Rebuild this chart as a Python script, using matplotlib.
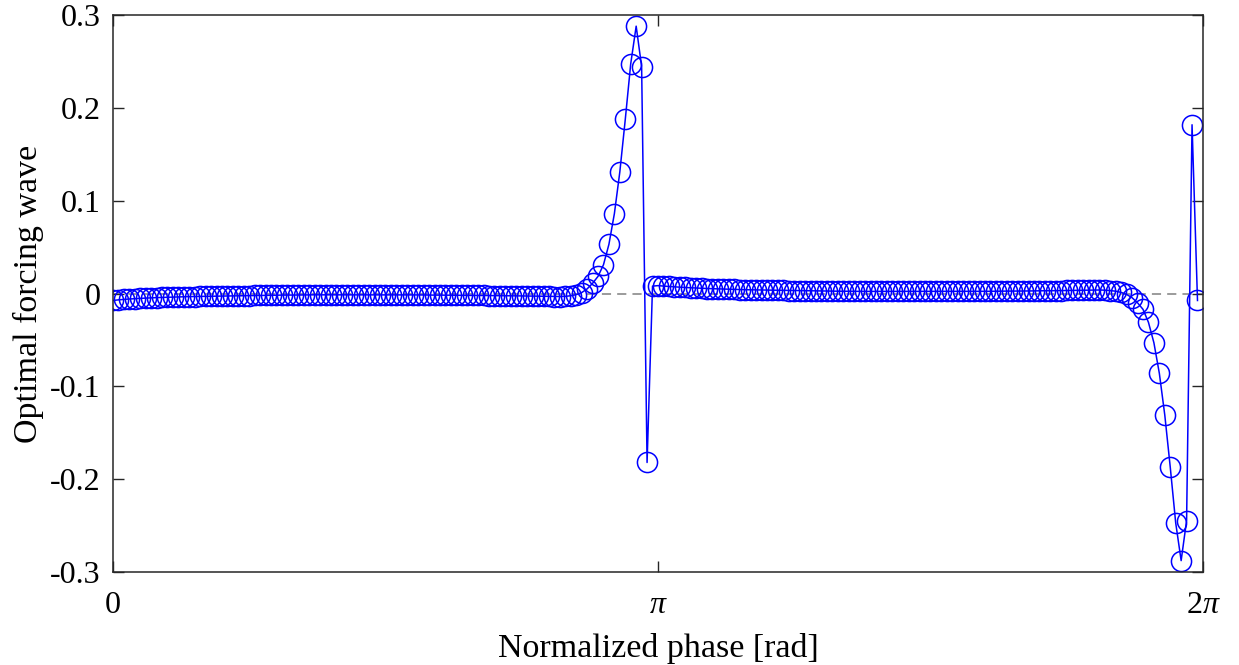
import numpy as np
import matplotlib
matplotlib.use("Agg")
from matplotlib import pyplot as plt

plt.rcParams['font.family'] = ['Liberation Serif', 'DejaVu Serif']
plt.rcParams['mathtext.fontset'] = 'custom'
plt.rcParams['mathtext.rm'] = 'Liberation Serif'
plt.rcParams['mathtext.it'] = 'Liberation Serif:italic'
plt.rcParams['axes.unicode_minus'] = False

# 200 samples over one period, phase step 2*pi/200
n_points = 200
phase = np.arange(n_points) * 2 * np.pi / n_points

# first half (0 .. pi)
wave_a = [
    -0.0075, -0.0068, -0.0063, -0.0059, -0.0055, -0.0052, -0.0049, -0.0046, -0.0044, -0.0042,
    -0.0040, -0.0038, -0.0036, -0.0035, -0.0033, -0.0032, -0.0031, -0.0030, -0.0029, -0.0028,
    -0.0027, -0.0026, -0.0025, -0.0024, -0.0023, -0.0022, -0.0021, -0.0020, -0.0019, -0.0019,
    -0.0018, -0.0017, -0.0017, -0.0016, -0.0016, -0.0015, -0.0015, -0.0014, -0.0014, -0.0014,
    -0.0013, -0.0013, -0.0013, -0.0013, -0.0013, -0.0013, -0.0013, -0.0013, -0.0013, -0.0013,
    -0.0013, -0.0014, -0.0014, -0.0014, -0.0015, -0.0015, -0.0015, -0.0016, -0.0016, -0.0017,
    -0.0017, -0.0018, -0.0018, -0.0019, -0.0019, -0.0020, -0.0020, -0.0021, -0.0021, -0.0022,
    -0.0022, -0.0023, -0.0024, -0.0024, -0.0025, -0.0026, -0.0027, -0.0028, -0.0029, -0.0030,
    -0.0031, -0.0032, -0.0032, -0.0030, -0.0024, -0.0012, 0.0010, 0.0050, 0.0110, 0.0185,
    0.0310, 0.0530, 0.0860, 0.1310, 0.1875, 0.2475, 0.2880, 0.2445, -0.1820, 0.0080,
]
# second half (pi .. 2pi)
wave_b = [
    0.0085, 0.0080, 0.0076, 0.0072, 0.0068, 0.0065, 0.0062, 0.0059, 0.0056, 0.0054,
    0.0052, 0.0050, 0.0048, 0.0046, 0.0044, 0.0043, 0.0041, 0.0040, 0.0038, 0.0037,
    0.0036, 0.0035, 0.0034, 0.0033, 0.0032, 0.0031, 0.0030, 0.0029, 0.0028, 0.0028,
    0.0027, 0.0026, 0.0026, 0.0025, 0.0025, 0.0024, 0.0024, 0.0023, 0.0023, 0.0023,
    0.0022, 0.0022, 0.0022, 0.0022, 0.0022, 0.0022, 0.0022, 0.0022, 0.0022, 0.0022,
    0.0022, 0.0022, 0.0023, 0.0023, 0.0023, 0.0023, 0.0023, 0.0024, 0.0024, 0.0024,
    0.0024, 0.0024, 0.0025, 0.0025, 0.0026, 0.0026, 0.0027, 0.0027, 0.0028, 0.0028,
    0.0029, 0.0030, 0.0030, 0.0031, 0.0032, 0.0033, 0.0034, 0.0035, 0.0036, 0.0037,
    0.0038, 0.0038, 0.0036, 0.0032, 0.0025, 0.0012, -0.0010, -0.0045, -0.0100, -0.0170,
    -0.0310, -0.0530, -0.0860, -0.1310, -0.1870, -0.2470, -0.2877, -0.2446, 0.1818, -0.0075,
]
wave = np.array(wave_a + wave_b)

xtick_vals = [0, np.pi, 2 * np.pi]
xtick_labels = ['0', r'$\pi$', r'2$\pi$']
ytick_vals = [-0.3, -0.2, -0.1, 0, 0.1, 0.2, 0.3]
ytick_labels = ['-0.3', '-0.2', '-0.1', '0', '0.1', '0.2', '0.3']

fig = plt.figure(figsize=(12.39, 6.65), dpi=100)
ax = fig.add_axes([0.0912, 0.1398, 0.8797, 0.8376])

ax.axhline(0, color='0.5', linestyle=(0, (6, 4)), linewidth=1.1, zorder=1)
ax.plot(phase, wave, '-o', color='blue', linewidth=1.1, markersize=14.5,
        markerfacecolor='none', markeredgewidth=1.1, zorder=2)

ax.set_xlim(0, 2 * np.pi)
ax.set_ylim(-0.3, 0.3)
ax.set_xticks(xtick_vals)
ax.set_xticklabels(xtick_labels)
ax.set_yticks(ytick_vals)
ax.set_yticklabels(ytick_labels)
ax.tick_params(direction='in', top=True, right=True, length=8, width=1,
               labelsize=23, color='0.15', pad=9)
ax.tick_params(axis='x', pad=14)
for sp in ax.spines.values():
    sp.set_color('0.15')
    sp.set_linewidth(1.1)

ax.set_xlabel('Normalized phase [rad]', fontsize=24.5, labelpad=9)
ax.set_ylabel('Optimal forcing wave', fontsize=24.5, labelpad=4)

fig.savefig('out.png', dpi=100)
